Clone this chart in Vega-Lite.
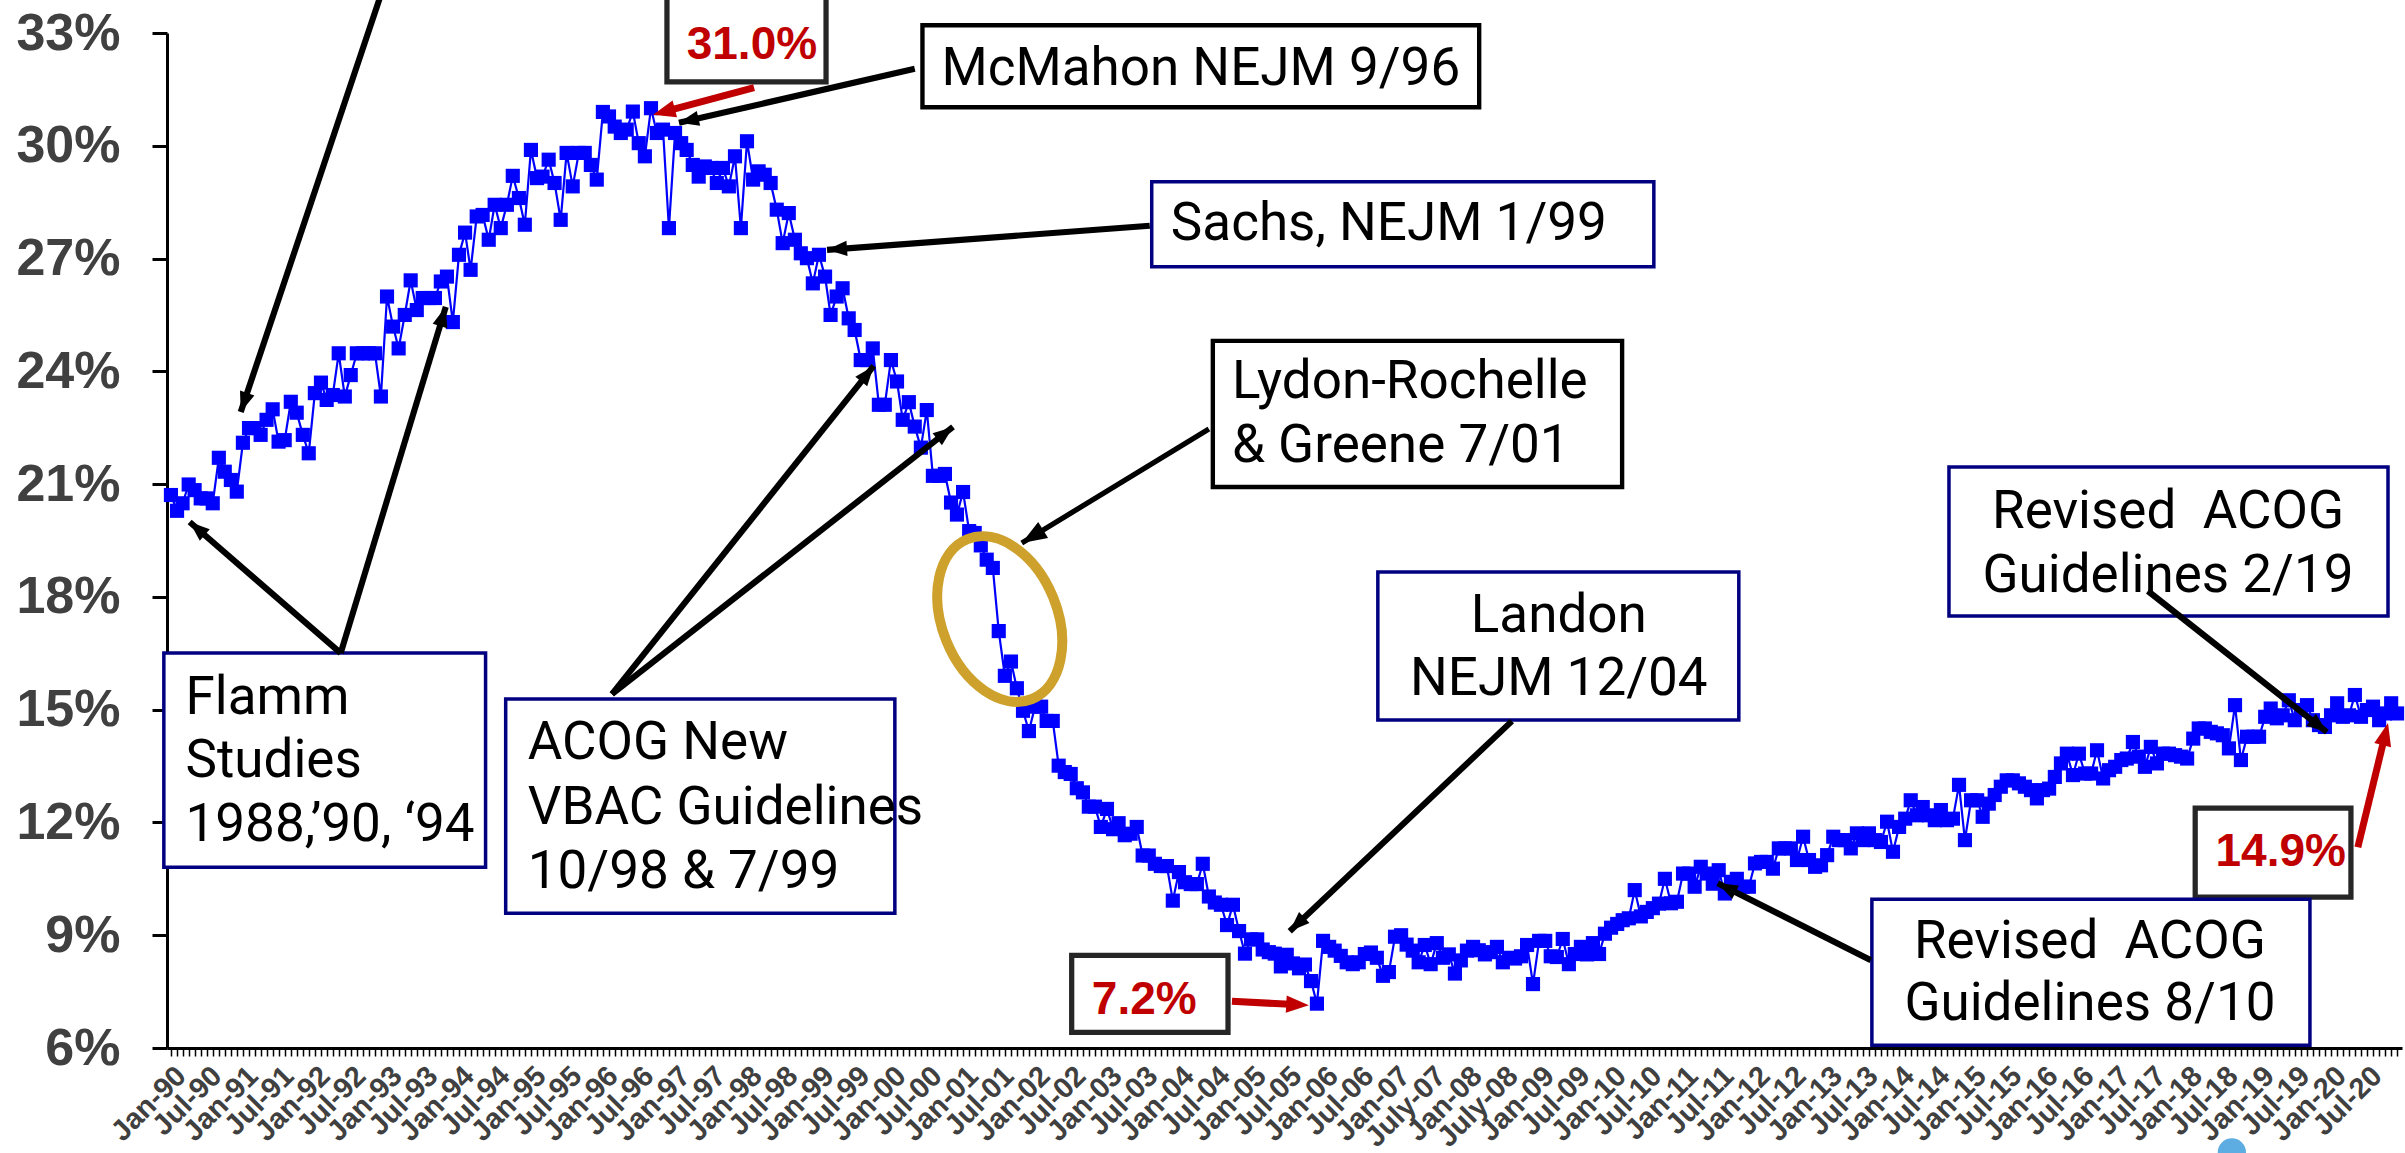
{
"$schema":"https://vega.github.io/schema/vega-lite/v6.json",
"width":2235,"height":1015,
"autosize":{"type":"none"},
"padding":{"left":167,"top":33,"right":3,"bottom":105},
"background":"white",
"config":{"view":{"stroke":null},"axis":{"grid":false}},
"layer":[
{"data":{"values":[
{"d":"1990-01","v":20.71},{"d":"1990-02","v":20.29},{"d":"1990-03","v":20.49},{"d":"1990-04","v":20.99},{"d":"1990-05","v":20.84},{"d":"1990-06","v":20.62},{"d":"1990-07","v":20.62},{"d":"1990-08","v":20.49},{"d":"1990-09","v":21.70},{"d":"1990-10","v":21.33},{"d":"1990-11","v":21.11},{"d":"1990-12","v":20.80},
{"d":"1991-01","v":22.10},{"d":"1991-02","v":22.49},{"d":"1991-03","v":22.49},{"d":"1991-04","v":22.31},{"d":"1991-05","v":22.71},{"d":"1991-06","v":22.99},{"d":"1991-07","v":22.13},{"d":"1991-08","v":22.17},{"d":"1991-09","v":23.19},{"d":"1991-10","v":22.90},{"d":"1991-11","v":22.31},{"d":"1991-12","v":21.82},
{"d":"1992-01","v":23.42},{"d":"1992-02","v":23.70},{"d":"1992-03","v":23.24},{"d":"1992-04","v":23.37},{"d":"1992-05","v":24.48},{"d":"1992-06","v":23.33},{"d":"1992-07","v":23.90},{"d":"1992-08","v":24.48},{"d":"1992-09","v":24.48},{"d":"1992-10","v":24.48},{"d":"1992-11","v":24.48},{"d":"1992-12","v":23.33},
{"d":"1993-01","v":25.99},{"d":"1993-02","v":25.19},{"d":"1993-03","v":24.61},{"d":"1993-04","v":25.50},{"d":"1993-05","v":26.42},{"d":"1993-06","v":25.63},{"d":"1993-07","v":25.95},{"d":"1993-08","v":25.95},{"d":"1993-09","v":25.95},{"d":"1993-10","v":26.39},{"d":"1993-11","v":26.52},{"d":"1993-12","v":25.31},
{"d":"1994-01","v":27.10},{"d":"1994-02","v":27.69},{"d":"1994-03","v":26.70},{"d":"1994-04","v":28.12},{"d":"1994-05","v":28.16},{"d":"1994-06","v":27.50},{"d":"1994-07","v":28.43},{"d":"1994-08","v":27.81},{"d":"1994-09","v":28.43},{"d":"1994-10","v":29.20},{"d":"1994-11","v":28.61},{"d":"1994-12","v":27.90},
{"d":"1995-01","v":29.89},{"d":"1995-02","v":29.14},{"d":"1995-03","v":29.18},{"d":"1995-04","v":29.63},{"d":"1995-05","v":29.01},{"d":"1995-06","v":28.03},{"d":"1995-07","v":29.81},{"d":"1995-08","v":28.92},{"d":"1995-09","v":29.81},{"d":"1995-10","v":29.81},{"d":"1995-11","v":29.49},{"d":"1995-12","v":29.10},
{"d":"1996-01","v":30.90},{"d":"1996-02","v":30.78},{"d":"1996-03","v":30.51},{"d":"1996-04","v":30.34},{"d":"1996-05","v":30.43},{"d":"1996-06","v":30.91},{"d":"1996-07","v":30.07},{"d":"1996-08","v":29.72},{"d":"1996-09","v":31.00},{"d":"1996-10","v":30.34},{"d":"1996-11","v":30.43},{"d":"1996-12","v":27.81},
{"d":"1997-01","v":30.34},{"d":"1997-02","v":30.07},{"d":"1997-03","v":29.89},{"d":"1997-04","v":29.49},{"d":"1997-05","v":29.18},{"d":"1997-06","v":29.45},{"d":"1997-07","v":29.41},{"d":"1997-08","v":29.01},{"d":"1997-09","v":29.41},{"d":"1997-10","v":28.92},{"d":"1997-11","v":29.72},{"d":"1997-12","v":27.81},
{"d":"1998-01","v":30.12},{"d":"1998-02","v":29.10},{"d":"1998-03","v":29.32},{"d":"1998-04","v":29.23},{"d":"1998-05","v":29.01},{"d":"1998-06","v":28.30},{"d":"1998-07","v":27.41},{"d":"1998-08","v":28.21},{"d":"1998-09","v":27.50},{"d":"1998-10","v":27.14},{"d":"1998-11","v":27.01},{"d":"1998-12","v":26.34},
{"d":"1999-01","v":27.10},{"d":"1999-02","v":26.52},{"d":"1999-03","v":25.50},{"d":"1999-04","v":25.99},{"d":"1999-05","v":26.21},{"d":"1999-06","v":25.41},{"d":"1999-07","v":25.10},{"d":"1999-08","v":24.30},{"d":"1999-09","v":24.30},{"d":"1999-10","v":24.61},{"d":"1999-11","v":23.11},{"d":"1999-12","v":23.11},
{"d":"2000-01","v":24.30},{"d":"2000-02","v":23.73},{"d":"2000-03","v":22.71},{"d":"2000-04","v":23.18},{"d":"2000-05","v":22.53},{"d":"2000-06","v":21.97},{"d":"2000-07","v":22.97},{"d":"2000-08","v":21.22},{"d":"2000-09","v":21.22},{"d":"2000-10","v":21.27},{"d":"2000-11","v":20.51},{"d":"2000-12","v":20.19},
{"d":"2001-01","v":20.79},{"d":"2001-02","v":19.75},{"d":"2001-03","v":19.70},{"d":"2001-04","v":19.37},{"d":"2001-05","v":18.99},{"d":"2001-06","v":18.77},{"d":"2001-07","v":17.09},{"d":"2001-08","v":15.90},{"d":"2001-09","v":16.28},{"d":"2001-10","v":15.57},{"d":"2001-11","v":14.97},{"d":"2001-12","v":14.43},
{"d":"2002-01","v":15.08},{"d":"2002-02","v":15.08},{"d":"2002-03","v":14.70},{"d":"2002-04","v":14.70},{"d":"2002-05","v":13.51},{"d":"2002-06","v":13.34},{"d":"2002-07","v":13.29},{"d":"2002-08","v":12.91},{"d":"2002-09","v":12.80},{"d":"2002-10","v":12.42},{"d":"2002-11","v":12.42},{"d":"2002-12","v":11.88},
{"d":"2003-01","v":12.36},{"d":"2003-02","v":11.82},{"d":"2003-03","v":11.98},{"d":"2003-04","v":11.66},{"d":"2003-05","v":11.70},{"d":"2003-06","v":11.88},{"d":"2003-07","v":11.12},{"d":"2003-08","v":11.12},{"d":"2003-09","v":10.90},{"d":"2003-10","v":10.84},{"d":"2003-11","v":10.84},{"d":"2003-12","v":9.92},
{"d":"2004-01","v":10.68},{"d":"2004-02","v":10.41},{"d":"2004-03","v":10.36},{"d":"2004-04","v":10.36},{"d":"2004-05","v":10.90},{"d":"2004-06","v":10.03},{"d":"2004-07","v":9.87},{"d":"2004-08","v":9.81},{"d":"2004-09","v":9.27},{"d":"2004-10","v":9.81},{"d":"2004-11","v":9.11},{"d":"2004-12","v":8.51},
{"d":"2005-01","v":8.89},{"d":"2005-02","v":8.89},{"d":"2005-03","v":8.62},{"d":"2005-04","v":8.55},{"d":"2005-05","v":8.51},{"d":"2005-06","v":8.17},{"d":"2005-07","v":8.48},{"d":"2005-08","v":8.25},{"d":"2005-09","v":8.12},{"d":"2005-10","v":8.22},{"d":"2005-11","v":7.78},{"d":"2005-12","v":7.18},
{"d":"2006-01","v":8.85},{"d":"2006-02","v":8.69},{"d":"2006-03","v":8.59},{"d":"2006-04","v":8.45},{"d":"2006-05","v":8.28},{"d":"2006-06","v":8.23},{"d":"2006-07","v":8.28},{"d":"2006-08","v":8.50},{"d":"2006-09","v":8.54},{"d":"2006-10","v":8.40},{"d":"2006-11","v":7.92},{"d":"2006-12","v":8.02},
{"d":"2007-01","v":8.96},{"d":"2007-02","v":9.00},{"d":"2007-03","v":8.75},{"d":"2007-04","v":8.59},{"d":"2007-05","v":8.28},{"d":"2007-06","v":8.74},{"d":"2007-07","v":8.23},{"d":"2007-08","v":8.79},{"d":"2007-09","v":8.40},{"d":"2007-10","v":8.49},{"d":"2007-11","v":7.98},{"d":"2007-12","v":8.33},
{"d":"2008-01","v":8.59},{"d":"2008-02","v":8.69},{"d":"2008-03","v":8.60},{"d":"2008-04","v":8.49},{"d":"2008-05","v":8.55},{"d":"2008-06","v":8.69},{"d":"2008-07","v":8.28},{"d":"2008-08","v":8.40},{"d":"2008-09","v":8.38},{"d":"2008-10","v":8.44},{"d":"2008-11","v":8.74},{"d":"2008-12","v":7.70},
{"d":"2009-01","v":8.85},{"d":"2009-02","v":8.85},{"d":"2009-03","v":8.44},{"d":"2009-04","v":8.42},{"d":"2009-05","v":8.90},{"d":"2009-06","v":8.23},{"d":"2009-07","v":8.50},{"d":"2009-08","v":8.69},{"d":"2009-09","v":8.49},{"d":"2009-10","v":8.79},{"d":"2009-11","v":8.50},{"d":"2009-12","v":9.04},
{"d":"2010-01","v":9.20},{"d":"2010-02","v":9.30},{"d":"2010-03","v":9.40},{"d":"2010-04","v":9.45},{"d":"2010-05","v":10.20},{"d":"2010-06","v":9.50},{"d":"2010-07","v":9.62},{"d":"2010-08","v":9.72},{"d":"2010-09","v":9.84},{"d":"2010-10","v":10.50},{"d":"2010-11","v":9.85},{"d":"2010-12","v":9.89},
{"d":"2011-01","v":10.64},{"d":"2011-02","v":10.64},{"d":"2011-03","v":10.29},{"d":"2011-04","v":10.82},{"d":"2011-05","v":10.64},{"d":"2011-06","v":10.37},{"d":"2011-07","v":10.73},{"d":"2011-08","v":10.11},{"d":"2011-09","v":10.42},{"d":"2011-10","v":10.50},{"d":"2011-11","v":10.29},{"d":"2011-12","v":10.29},
{"d":"2012-01","v":10.91},{"d":"2012-02","v":10.95},{"d":"2012-03","v":10.95},{"d":"2012-04","v":10.77},{"d":"2012-05","v":11.31},{"d":"2012-06","v":11.31},{"d":"2012-07","v":11.31},{"d":"2012-08","v":11.00},{"d":"2012-09","v":11.62},{"d":"2012-10","v":11.00},{"d":"2012-11","v":10.82},{"d":"2012-12","v":10.86},
{"d":"2013-01","v":11.13},{"d":"2013-02","v":11.62},{"d":"2013-03","v":11.53},{"d":"2013-04","v":11.53},{"d":"2013-05","v":11.31},{"d":"2013-06","v":11.71},{"d":"2013-07","v":11.53},{"d":"2013-08","v":11.71},{"d":"2013-09","v":11.53},{"d":"2013-10","v":11.48},{"d":"2013-11","v":12.02},{"d":"2013-12","v":11.22},
{"d":"2014-01","v":11.88},{"d":"2014-02","v":12.10},{"d":"2014-03","v":12.59},{"d":"2014-04","v":12.19},{"d":"2014-05","v":12.41},{"d":"2014-06","v":12.19},{"d":"2014-07","v":12.06},{"d":"2014-08","v":12.33},{"d":"2014-09","v":12.06},{"d":"2014-10","v":12.10},{"d":"2014-11","v":13.00},{"d":"2014-12","v":11.53},
{"d":"2015-01","v":12.59},{"d":"2015-02","v":12.59},{"d":"2015-03","v":12.15},{"d":"2015-04","v":12.50},{"d":"2015-05","v":12.73},{"d":"2015-06","v":12.95},{"d":"2015-07","v":13.12},{"d":"2015-08","v":13.12},{"d":"2015-09","v":13.04},{"d":"2015-10","v":12.95},{"d":"2015-11","v":12.86},{"d":"2015-12","v":12.64},
{"d":"2016-01","v":12.86},{"d":"2016-02","v":12.90},{"d":"2016-03","v":13.21},{"d":"2016-04","v":13.57},{"d":"2016-05","v":13.83},{"d":"2016-06","v":13.26},{"d":"2016-07","v":13.83},{"d":"2016-08","v":13.30},{"d":"2016-09","v":13.30},{"d":"2016-10","v":13.92},{"d":"2016-11","v":13.17},{"d":"2016-12","v":13.39},
{"d":"2017-01","v":13.48},{"d":"2017-02","v":13.66},{"d":"2017-03","v":13.70},{"d":"2017-04","v":14.14},{"d":"2017-05","v":13.75},{"d":"2017-06","v":13.48},{"d":"2017-07","v":14.01},{"d":"2017-08","v":13.57},{"d":"2017-09","v":13.83},{"d":"2017-10","v":13.83},{"d":"2017-11","v":13.79},{"d":"2017-12","v":13.75},
{"d":"2018-01","v":13.70},{"d":"2018-02","v":14.23},{"d":"2018-03","v":14.50},{"d":"2018-04","v":14.50},{"d":"2018-05","v":14.41},{"d":"2018-06","v":14.37},{"d":"2018-07","v":14.32},{"d":"2018-08","v":13.97},{"d":"2018-09","v":15.12},{"d":"2018-10","v":13.66},{"d":"2018-11","v":14.28},{"d":"2018-12","v":14.28},
{"d":"2019-01","v":14.28},{"d":"2019-02","v":14.81},{"d":"2019-03","v":15.03},{"d":"2019-04","v":14.77},{"d":"2019-05","v":14.85},{"d":"2019-06","v":15.25},{"d":"2019-07","v":14.72},{"d":"2019-08","v":14.99},{"d":"2019-09","v":15.12},{"d":"2019-10","v":14.72},{"d":"2019-11","v":14.59},{"d":"2019-12","v":14.54},
{"d":"2020-01","v":14.85},{"d":"2020-02","v":15.17},{"d":"2020-03","v":14.81},{"d":"2020-04","v":14.85},{"d":"2020-05","v":15.39},{"d":"2020-06","v":14.81},{"d":"2020-07","v":14.99},{"d":"2020-08","v":15.08},{"d":"2020-09","v":14.72},{"d":"2020-10","v":14.90},{"d":"2020-11","v":15.17},{"d":"2020-12","v":14.90}
],"format":{"parse":{"d":"date"}}},
"layer":[
{"mark":{"type":"line","color":"#0000FF","strokeWidth":2.2},
 "encoding":{
  "x":{"field":"d","type":"temporal","scale":{"type":"utc","domain":[{"year":1989,"month":12,"date":12,"utc":true},{"year":2020,"month":12,"date":26,"utc":true}]},
   "axis":{"title":null,"tickCount":{"interval":"month","step":1},"labelOverlap":false,"labelBound":false,"labelFlush":false,"labelAngle":-45,"labelFont":"Liberation Sans","labelFontWeight":"bold","labelFontSize":29,"labelColor":"#404040","labelPadding":5,"tickSize":8,"tickWidth":1.5,"tickColor":"#000000","domainColor":"#000000","domainWidth":3,
    "labelExpr":"utcmonth(datum.value) == 0 ? utcFormat(datum.value, 'Jan-%y') : (utcmonth(datum.value) == 6 ? ((utcyear(datum.value) == 2007 || utcyear(datum.value) == 2008) ? utcFormat(datum.value, 'July-%y') : utcFormat(datum.value, 'Jul-%y')) : '')"}},
  "y":{"field":"v","type":"quantitative","scale":{"domain":[6,33],"nice":false,"zero":false},
   "axis":{"title":null,"values":[6,9,12,15,18,21,24,27,30,33],"labelExpr":"datum.value + '%'","labelFont":"Liberation Sans","labelFontWeight":"bold","labelFontSize":52,"labelColor":"#404040","labelPadding":32,"tickSize":15,"tickWidth":3,"tickColor":"#000000","domainColor":"#000000","domainWidth":3}}}},
{"mark":{"type":"point","shape":"square","filled":true,"size":200,"color":"#0000FF","opacity":1},
 "encoding":{"x":{"field":"d","type":"temporal","axis":{"title":null}},"y":{"field":"v","type":"quantitative","axis":{"title":null}}}}
]},
{"data":{"values":[{"x":"2001-07-06","y":17.41}],"format":{"parse":{"x":"date"}}},
 "mark":{"type":"point","shape":"M0,-1C0.369,-1 0.669,-0.552 0.669,0C0.669,0.552 0.369,1 0,1C-0.369,1 -0.669,0.552 -0.669,0C-0.669,-0.552 -0.369,-1 0,-1Z","filled":false,"stroke":"#CDA12B","strokeWidth":10,"size":29722,"angle":-22,"opacity":1},
 "encoding":{"x":{"field":"x","type":"temporal","axis":{"title":null}},"y":{"field":"y","type":"quantitative","axis":{"title":null}}}},
{"data":{"values":[{"x":"2018-08-16","y":3.22}],"format":{"parse":{"x":"date"}}},
 "mark":{"type":"point","shape":"circle","filled":true,"size":800,"color":"#5DADE2","opacity":1},
 "encoding":{"x":{"field":"x","type":"temporal","axis":{"title":null}},"y":{"field":"y","type":"quantitative","axis":{"title":null}}}},
{"data":{"values":[
 {"x":"1989-11-26","x2":"1994-05-16","y":16.505,"y2":10.809,"k":"navy"},
 {"x":"1994-08-26","x2":"2000-01-21","y":15.281,"y2":9.585,"k":"navy"},
 {"x":"2000-06-09","x2":"2008-03-03","y":33.207,"y2":31.025,"k":"thick"},
 {"x":"1996-11-21","x2":"1999-02-06","y":34.152,"y2":31.703,"k":"thin"},
 {"x":"2003-08-16","x2":"2010-08-06","y":29.042,"y2":26.779,"k":"navy"},
 {"x":"2004-06-21","x2":"2010-02-26","y":24.810,"y2":20.924,"k":"thick"},
 {"x":"2006-10-06","x2":"2011-10-11","y":18.661,"y2":14.722,"k":"navy"},
 {"x":"2002-07-06","x2":"2004-09-06","y":8.467,"y2":6.417,"k":"thin"},
 {"x":"2018-02-11","x2":"2020-04-11","y":12.380,"y2":10.011,"k":"thin"},
 {"x":"2013-08-16","x2":"2019-09-16","y":9.957,"y2":6.071,"k":"navy"},
 {"x":"2014-09-11","x2":"2020-10-16","y":21.456,"y2":17.490,"k":"navy"}
 ],"format":{"parse":{"x":"date","x2":"date"}}},
 "mark":{"type":"rect","fill":"white"},
 "encoding":{"x":{"field":"x","type":"temporal","axis":{"title":null}},"x2":{"field":"x2"},"y":{"field":"y","type":"quantitative","axis":{"title":null}},"y2":{"field":"y2"},
  "stroke":{"field":"k","type":"nominal","scale":{"domain":["navy","thick","thin"],"range":["#000080","#000000","#262626"]},"legend":null},
  "strokeWidth":{"field":"k","type":"nominal","scale":{"domain":["navy","thick","thin"],"range":[3.5,7,2]},"legend":null}}},
{"data":{"values":[
 {"x":"1992-12-01","y":34.019,"x2":"1990-12-21","y2":22.920,"hx":"1990-12-21","hy":22.920,"a":-161.2,"k":"black"},
 {"x":"1992-05-11","y":16.505,"x2":"1990-04-06","y2":19.992,"hx":"1990-04-06","hy":19.992,"a":-49.1,"k":"black"},
 {"x":"1992-05-11","y":16.505,"x2":"1993-10-26","y2":25.715,"hx":"1993-10-26","hy":25.715,"a":16.9,"k":"black"},
 {"x":"2000-05-01","y":32.050,"x2":"1997-01-21","y2":30.612,"hx":"1997-01-21","hy":30.612,"a":-102.9,"k":"black"},
 {"x":"1998-02-06","y":31.544,"x2":"1996-11-18","y2":30.921,"hx":"1996-09-11","hy":30.825,"a":-105.0,"k":"red"},
 {"x":"2003-08-06","y":27.871,"x2":"1999-02-11","y2":27.232,"hx":"1999-02-11","hy":27.232,"a":-94.25,"k":"black"},
 {"x":"1996-02-16","y":15.414,"x2":"1999-10-06","y2":24.144,"hx":"1999-10-06","hy":24.144,"a":38.6,"k":"black"},
 {"x":"1996-02-16","y":15.414,"x2":"2000-11-11","y2":22.521,"hx":"2000-11-11","hy":22.521,"a":51.9,"k":"black"},
 {"x":"2004-06-01","y":22.467,"x2":"2001-10-26","y2":19.433,"hx":"2001-10-26","hy":19.433,"a":-121.4,"k":"thin"},
 {"x":"2008-08-16","y":14.695,"x2":"2005-07-16","y2":9.106,"hx":"2005-07-16","hy":9.106,"a":-133.4,"k":"black"},
 {"x":"2004-09-26","y":7.243,"x2":"2005-08-11","y2":7.155,"hx":"2005-10-21","hy":7.136,"a":93.0,"k":"red"},
 {"x":"2013-08-11","y":8.334,"x2":"2011-06-26","y2":10.384,"hx":"2011-06-26","hy":10.384,"a":-63.3,"k":"black"},
 {"x":"2020-05-16","y":11.341,"x2":"2020-09-29","y2":14.280,"hx":"2020-10-16","hy":14.642,"a":13.6,"k":"red"},
 {"x":"2017-06-16","y":18.156,"x2":"2019-12-11","y2":14.402,"hx":"2019-12-11","hy":14.402,"a":128.2,"k":"black"}
 ],"format":{"parse":{"x":"date","x2":"date","hx":"date"}}},
 "layer":[
 {"mark":{"type":"rule","strokeCap":"butt"},
  "encoding":{"x":{"field":"x","type":"temporal","axis":{"title":null}},"x2":{"field":"x2"},"y":{"field":"y","type":"quantitative","axis":{"title":null}},"y2":{"field":"y2"},
   "color":{"field":"k","type":"nominal","scale":{"domain":["black","red","thin"],"range":["#000000","#C00000","#000000"]},"legend":null},
   "strokeWidth":{"field":"k","type":"nominal","scale":{"domain":["black","red","thin"],"range":[3,7,1.5]},"legend":null}}},
 {"mark":{"type":"point","shape":"M0,0L0.38,1L-0.38,1Z","filled":true,"opacity":1,"strokeWidth":0},
  "encoding":{"x":{"field":"hx","type":"temporal","axis":{"title":null}},"y":{"field":"hy","type":"quantitative","axis":{"title":null}},
   "angle":{"field":"a","type":"quantitative","scale":null},
   "color":{"field":"k","type":"nominal","scale":{"domain":["black","red","thin"],"range":["#000000","#C00000","#000000"]},"legend":null},
   "size":{"field":"k","type":"nominal","scale":{"domain":["black","red","thin"],"range":[1600,2500,576]},"legend":null}}}
 ]},
{"data":{"values":[
 {"x":"1990-03-16","y":14.882,"t":"Flamm","k":"left"},
 {"x":"1990-03-16","y":13.205,"t":"Studies","k":"left"},
 {"x":"1990-03-16","y":11.501,"t":"1988,’90, ‘94","k":"left"},
 {"x":"1994-12-16","y":13.689,"t":"ACOG New","k":"left"},
 {"x":"1994-12-16","y":11.970,"t":"VBAC Guidelines","k":"left"},
 {"x":"1994-12-16","y":10.253,"t":"10/98 & 7/99","k":"left"},
 {"x":"2003-11-21","y":27.498,"t":"Sachs, NEJM 1/99","k":"left"},
 {"x":"2004-09-26","y":23.287,"t":"Lydon-Rochelle","k":"left"},
 {"x":"2004-09-26","y":21.576,"t":"& Greene 7/01","k":"left"},
 {"x":"2004-04-21","y":31.605,"t":"McMahon NEJM 9/96","k":"center"},
 {"x":"2009-04-11","y":17.067,"t":"Landon","k":"center"},
 {"x":"2009-04-11","y":15.403,"t":"NEJM 12/04","k":"center"},
 {"x":"2016-08-26","y":8.400,"t":"Revised\u00a0 ACOG","k":"center"},
 {"x":"2016-08-26","y":6.737,"t":"Guidelines 8/10","k":"center"},
 {"x":"2017-09-26","y":19.835,"t":"Revised\u00a0 ACOG","k":"center"},
 {"x":"2017-09-26","y":18.139,"t":"Guidelines 2/19","k":"center"},
 {"x":"1998-01-26","y":32.318,"t":"31.0%","k":"red"},
 {"x":"2003-07-09","y":6.902,"t":"7.2%","k":"red"},
 {"x":"2019-04-21","y":10.854,"t":"14.9%","k":"red"}
 ],"format":{"parse":{"x":"date"}}},
 "layer":[
 {"transform":[{"filter":"datum.k == 'left'"}],
  "mark":{"type":"text","font":"Roboto","fontSize":53,"align":"left","baseline":"alphabetic","color":"#000000"},
  "encoding":{"x":{"field":"x","type":"temporal","axis":{"title":null}},"y":{"field":"y","type":"quantitative","axis":{"title":null}},"text":{"field":"t"}}},
 {"transform":[{"filter":"datum.k == 'center'"}],
  "mark":{"type":"text","font":"Roboto","fontSize":53,"align":"center","baseline":"alphabetic","color":"#000000"},
  "encoding":{"x":{"field":"x","type":"temporal","axis":{"title":null}},"y":{"field":"y","type":"quantitative","axis":{"title":null}},"text":{"field":"t"}}},
 {"transform":[{"filter":"datum.k == 'red'"}],
  "mark":{"type":"text","font":"Liberation Sans","fontWeight":"bold","fontSize":46,"align":"center","baseline":"alphabetic","color":"#C00000"},
  "encoding":{"x":{"field":"x","type":"temporal","axis":{"title":null}},"y":{"field":"y","type":"quantitative","axis":{"title":null}},"text":{"field":"t"}}}
 ]}
]
}
